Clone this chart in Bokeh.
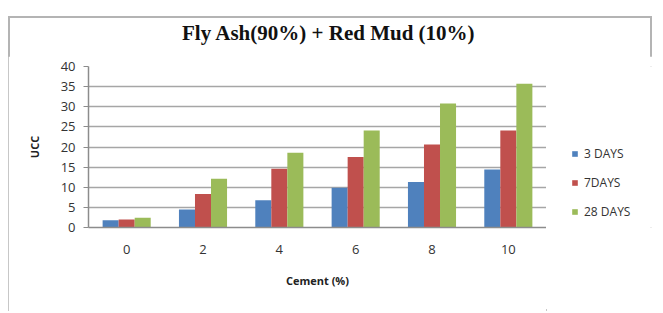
from bokeh.plotting import figure
from bokeh.models import FactorRange, ColumnDataSource, Legend, LegendItem, SingleIntervalTicker, Spacer, Div
from bokeh.layouts import column, row
from bokeh.transform import dodge
from bokeh.embed import file_html
from bokeh.resources import INLINE

title_text = "Fly Ash(90%) + Red Mud (10%)"
cement = ["0", "2", "4", "6", "8", "10"]
days3 = [1.8, 4.5, 6.8, 9.9, 11.3, 14.4]
days7 = [2.0, 8.3, 14.6, 17.5, 20.6, 24.1]
days28 = [2.4, 12.1, 18.6, 24.1, 30.8, 35.7]
series_names = ["3 DAYS", "7DAYS", "28 DAYS"]
colors = ["#4F81BD", "#C0504D", "#9BBB59"]

src = ColumnDataSource(dict(cement=cement, d3=days3, d7=days7, d28=days28))
cols = ["d3", "d7", "d28"]
offsets = [-0.21, 0.0, 0.21]

# main chart
p = figure(width=538, height=255, output_backend="svg", toolbar_location=None,
           x_range=FactorRange(*cement, range_padding=0), y_range=(0, 40),
           min_border_left=80, min_border_right=0, min_border_top=10, min_border_bottom=84)

for col, off, c in zip(cols, offsets, colors):
    p.vbar(x=dodge("cement", off, range=p.x_range), top=col, width=0.21,
           source=src, fill_color=c, line_color=None)

p.outline_line_color = None
p.background_fill_color = "white"
p.border_fill_color = "white"

p.yaxis.ticker = SingleIntervalTicker(interval=5)
p.ygrid.grid_line_color = "#a6a6a6"
p.ygrid.grid_line_width = 1.5
p.xgrid.grid_line_color = None

for ax in (p.xaxis[0], p.yaxis[0]):
    ax.axis_line_color = "#8c8c8c"
    ax.axis_line_width = 1.5
    ax.major_tick_line_color = "#8c8c8c"
    ax.minor_tick_line_color = None
    ax.major_label_text_font = "Open Sans"
    ax.major_label_text_font_size = "13px"
    ax.major_label_text_color = "#333333"
    ax.axis_label_text_font = "Open Sans"
    ax.axis_label_text_font_size = "11px"
    ax.axis_label_text_font_style = "bold"
    ax.axis_label_text_color = "#222222"

p.yaxis.major_tick_out = 5
p.yaxis.major_tick_in = 0
p.yaxis.major_label_standoff = 8
p.yaxis.axis_label = "UCC"
p.yaxis.axis_label_standoff = 16

p.xaxis.major_tick_line_color = None
p.xaxis.major_label_standoff = 11
p.xaxis.axis_label = "Cement (%)"
p.xaxis.axis_label_standoff = 16

# legend panel: hidden copies of the series carry the styles for the legend only
pl = figure(width=106, height=255, output_backend="svg", toolbar_location=None,
            x_range=FactorRange(*cement), y_range=(0, 40),
            x_axis_location=None, y_axis_location=None, min_border=0)
pl.outline_line_color = None
pl.grid.visible = False
pl.background_fill_color = "white"
pl.border_fill_color = "white"
leg_r = []
for col, off, c in zip(cols, offsets, colors):
    leg_r.append(pl.vbar(x=dodge("cement", off, range=pl.x_range), top=col, width=0.21,
                         source=src, fill_color=c, line_color=None, visible=False))

legend = Legend(items=[LegendItem(label=n, renderers=[r]) for n, r in zip(series_names, leg_r)],
                location=(25, 6), padding=0, margin=0, spacing=9, label_height=20,
                glyph_width=7, glyph_height=7, label_standoff=6, click_policy="none",
                label_text_font="Open Sans", label_text_font_size="12px", label_text_color="#333333",
                border_line_color=None, background_fill_alpha=0)
pl.add_layout(legend)

title = Div(text='<div style="font-family: \'Liberation Serif\'; font-size: 21px; font-weight: bold; '
                 'color: #111111; white-space: nowrap; padding: 5px 0 0 174px; line-height: 24px;">'
                 + title_text + '</div>',
            width=644, height=40, margin=0)

inner = column(title, row(p, pl, width=644, height=255), width=644, height=295,
               styles={"outline": "2px solid #b4b4b4", "outline-offset": "-2px", "background": "white"})
layout = column(Spacer(width=652, height=16), row(Spacer(width=8, height=295), inner))

open("out.html", "w").write(file_html(layout, INLINE))
